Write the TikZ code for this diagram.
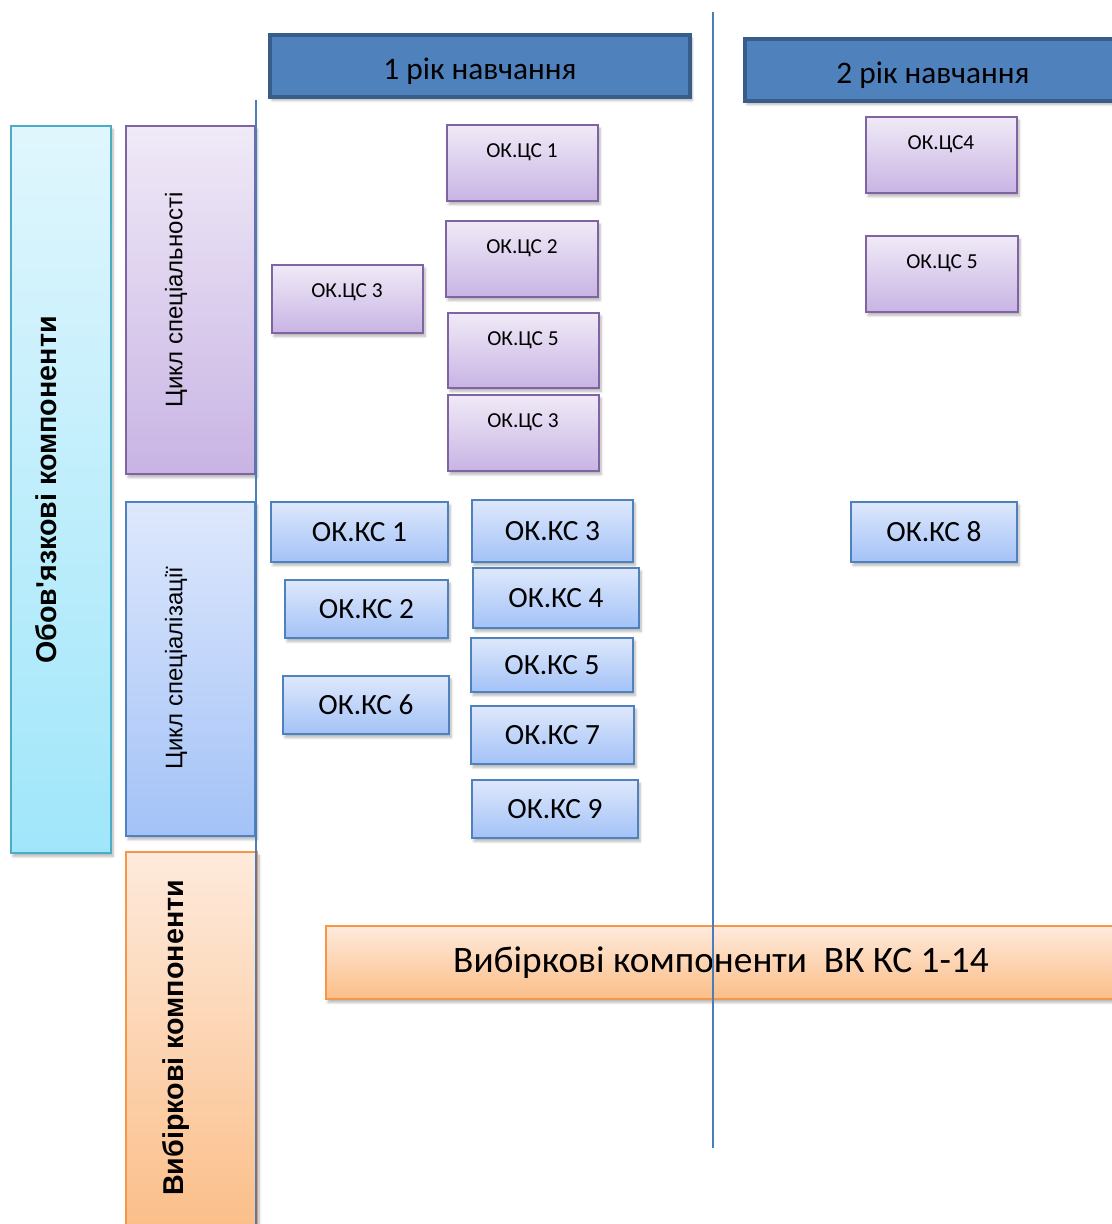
\documentclass[tikz,border=0pt]{standalone}
\usepackage{fontspec}
\setmainfont{Carlito}
\newfontfamily\arialf{Liberation Sans}
\usetikzlibrary{shadows.blur}
\definecolor{hdrF}{HTML}{4F81BD}
\definecolor{hdrB}{HTML}{385D8A}
\definecolor{purB}{HTML}{8064A2}
\definecolor{purT}{HTML}{F0EAF7}
\definecolor{purD}{HTML}{C8B4E4}
\definecolor{bluB}{HTML}{4F81BD}
\definecolor{bluT}{HTML}{DEE8FC}
\definecolor{bluD}{HTML}{A3C2F7}
\definecolor{cyaB}{HTML}{4BACC6}
\definecolor{cyaT}{HTML}{E0F6FD}
\definecolor{cyaD}{HTML}{A0E6FA}
\definecolor{oraB}{HTML}{F79646}
\definecolor{oraT}{HTML}{FEEADC}
\definecolor{oraD}{HTML}{FBBE88}
\definecolor{lineC}{HTML}{4A7EBB}
\begin{document}
\begin{tikzpicture}[x=0.75pt,y=-0.75pt,
  rect/.style n args={4}{anchor=north west, inner sep=0pt, outer sep=0pt,
    at={(#1,#2)}, minimum width={(#3-#1)*0.75pt}, minimum height={(#4-#2)*0.75pt}},
  shd/.style={blur shadow={shadow xshift=1.5pt, shadow yshift=-2.5pt, shadow blur steps=6, shadow opacity=30}},
  header/.style={draw=hdrB, line width=3pt, fill=hdrF, shd},
  hdrtxt/.style={font=\fontsize{23.5}{28}\selectfont, inner sep=0pt},
  purp/.style={draw=purB, line width=1.5pt, top color=purT, bottom color=purD, shd},
  blu/.style={draw=bluB, line width=1.5pt, top color=bluT, bottom color=bluD, shd, font=\fontsize{22}{26}\selectfont},
  cya/.style={draw=cyaB, line width=1.5pt, top color=cyaT, bottom color=cyaD, shd},
  ora/.style={draw=oraB, line width=1.5pt, top color=oraT, bottom color=oraD, shd},
  cs/.style={purp},
  cstxt/.style={font=\fontsize{16}{19}\selectfont, inner sep=0pt},
  vbold/.style={rotate=90, font=\arialf\bfseries\fontsize{21.5}{25}\selectfont, inner sep=0pt},
  vreg/.style={rotate=90, font=\arialf\fontsize{18}{21}\selectfont, inner sep=0pt},
  vline/.style={draw=lineC, line width=1.1pt}
]
\useasboundingbox (0,0) rectangle (1112,1224);
\clip (0,0) rectangle (1112,1224);

% headers
\node[header, rect={270}{35}{690}{97}] (h1) {};
\node[hdrtxt] (h1T) at (480,71) {1 рік навчання};
\node[header, rect={745}{39}{1121}{101}] (h2) {};
\node[hdrtxt] (h2T) at (933,75) {2 рік навчання};

% left column
\node[cya, rect={11}{126}{111}{853}] (oblig) {};
\node[vbold] (obligT) at (46,490) {Обов\textquotesingle язкові компоненти};
\node[purp, rect={126}{126}{255}{474}] (cspec) {};
\node[vreg] (cspecT) at (176,300) {Цикл спеціальності};
\node[blu, rect={126}{502}{255}{836}] (cspz) {};
\node[vreg] (cspzT) at (176,668) {Цикл спеціалізації};
\node[ora, rect={126}{852}{257}{1232}] (vyb) {};
\node[vbold] (vybT) at (176,1038) {Вибіркові компоненти};

% OK.CS boxes
\node[cs, rect={447}{125}{598}{201}] (cs1) {};
\node[cstxt] (cs1T) at (522,152) {ОК.ЦС 1};
\node[cs, rect={446}{221}{598}{297}] (cs2) {};
\node[cstxt] (cs2T) at (522,248) {ОК.ЦС 2};
\node[cs, rect={272}{265}{423}{333}] (cs3a) {};
\node[cstxt] (cs3aT) at (347,292) {ОК.ЦС 3};
\node[cs, rect={448}{313}{599}{388}] (cs5a) {};
\node[cstxt] (cs5aT) at (523,340) {ОК.ЦС 5};
\node[cs, rect={448}{395}{599}{471}] (cs3b) {};
\node[cstxt] (cs3bT) at (523,422) {ОК.ЦС 3};
\node[cs, rect={866}{117}{1017}{193}] (cs4) {};
\node[cstxt] (cs4T) at (941,144) {ОК.ЦС4};
\node[cs, rect={866}{236}{1018}{312}] (cs5b) {};
\node[cstxt] (cs5bT) at (942,263) {ОК.ЦС 5};

% OK.KS boxes
\node[blu, rect={271}{502}{448}{562}] (ks1) {ОК.КС 1};
\node[blu, rect={472}{500}{633}{562}] (ks3) {ОК.КС 3};
\node[blu, rect={285}{580}{448}{638}] (ks2) {ОК.КС 2};
\node[blu, rect={473}{568}{639}{628}] (ks4) {ОК.КС 4};
\node[blu, rect={471}{638}{633}{692}] (ks5) {ОК.КС 5};
\node[blu, rect={283}{676}{449}{734}] (ks6) {ОК.КС 6};
\node[blu, rect={471}{706}{634}{764}] (ks7) {ОК.КС 7};
\node[blu, rect={472}{780}{638}{838}] (ks9) {ОК.КС 9};
\node[blu, rect={851}{502}{1017}{562}] (ks8) {ОК.КС 8};

% elective box
\node[ora, rect={326}{926}{1116}{999}, font=\fontsize{28}{32}\selectfont] (vk) {Вибіркові компоненти\ \ ВК КС 1-14};

% dividing lines
\coordinate (l1t) at (256,100);
\coordinate (l1b) at (256,1230);
\coordinate (l2t) at (713,12);
\coordinate (l2b) at (713,1148);
\draw[vline] (l1t) -- (l1b);
\draw[vline] (l2t) -- (l2b);
\end{tikzpicture}
\end{document}
